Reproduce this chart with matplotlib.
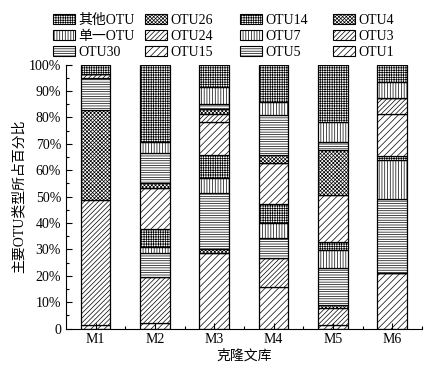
import matplotlib
matplotlib.use('Agg')
import matplotlib.pyplot as plt
import numpy as np
from matplotlib.patches import Patch

plt.rcParams['font.family'] = ['Liberation Serif', 'Noto Sans CJK SC']
plt.rcParams['hatch.linewidth'] = 0.5

# Data (percent), stacking order bottom -> top
libraries = ['M1', 'M2', 'M3', 'M4', 'M5', 'M6']
otu_names = ['OTU1', 'OTU3', 'OTU4', 'OTU5', 'OTU7', 'OTU14', 'OTU15',
             'OTU24', 'OTU26', 'OTU30', '单一OTU', '其他OTU']
otu1 = [1.4, 2.0, 28.5, 15.6, 1.4, 21.2]
otu3 = [47.3, 17.4, 0.0, 11.0, 6.3, 0.0]
otu4 = [34.1, 0.0, 1.5, 0.0, 1.3, 0.0]
otu5 = [12.0, 9.4, 21.5, 7.6, 13.8, 27.8]
otu7 = [0.0, 2.2, 5.5, 5.7, 7.0, 14.8]
otu14 = [0.0, 6.6, 8.7, 7.3, 3.1, 1.7]
otu15 = [0.0, 15.5, 12.6, 15.4, 17.7, 15.6]
otu24 = [1.6, 0.0, 2.8, 0.0, 0.0, 6.3]
otu26 = [0.0, 1.9, 1.9, 3.1, 17.0, 0.0]
otu30 = [0.0, 11.4, 1.9, 15.2, 2.9, 0.0]
single_otu = [0.0, 4.4, 6.7, 5.0, 7.8, 6.1]
other_otu = [3.6, 29.2, 8.4, 14.1, 21.7, 6.5]

series = [otu1, otu3, otu4, otu5, otu7, otu14, otu15,
          otu24, otu26, otu30, single_otu, other_otu]
hatches = ['/////', '///////', 'xxxxxxxxx', '-------', '||||||', '+++++++', '/////',
           '///////', 'xxxxxxxxx', '-------', '||||||', '+++++++']

fig = plt.figure(figsize=(4.34, 3.73), dpi=100)
ax = fig.add_axes([0.152, 0.119, 0.820, 0.708])

x = np.arange(1, len(libraries) + 1)
bottom = np.zeros(len(libraries))
handles = []
for name, vals, h in zip(otu_names, series, hatches):
    vals = np.array(vals)
    ax.bar(x, vals, 0.5, bottom=bottom, facecolor='white', edgecolor='black',
           hatch=h, linewidth=0.9)
    bottom += vals
    handles.append(Patch(facecolor='white', edgecolor='black', hatch=h,
                         linewidth=0.8, label=name))

ax.set_xlim(0.5, 6.5)
ax.set_ylim(0, 100)
ax.spines['top'].set_visible(False)
ax.spines['right'].set_visible(False)

ax.set_xticks(x)
ax.set_xticklabels(libraries, fontsize=10)
ax.set_xticks([1.5, 2.5, 3.5, 4.5, 5.5, 6.5], minor=True)
ax.set_yticks(np.arange(0, 101, 10))
ax.set_yticklabels(['0'] + ['%d%%' % v for v in range(10, 101, 10)], fontsize=10)
ax.set_yticks(np.arange(5, 100, 10), minor=True)
ax.tick_params(which='major', direction='in', length=4, width=0.8)
ax.tick_params(which='minor', direction='in', length=2.5, width=0.8)
ax.tick_params(axis='x', which='both', top=False)

ax.set_xlabel('克隆文库', fontsize=10, labelpad=2)
ax.set_ylabel('主要OTU类型所占百分比', fontsize=10, labelpad=2)

# legend: 4 columns of 3, reverse of stacking order
rev = handles[::-1]
col_x = [0.115, 0.327, 0.546, 0.760]
for i, cx in enumerate(col_x):
    fig.legend(handles=rev[i * 3:(i + 1) * 3], loc='upper left',
               bbox_to_anchor=(cx, 0.97), frameon=False, fontsize=10,
               handlelength=1.6, handleheight=0.7, handletextpad=0.25,
               labelspacing=0.22, borderpad=0.2, borderaxespad=0)

fig.savefig('out.png', dpi=100)
